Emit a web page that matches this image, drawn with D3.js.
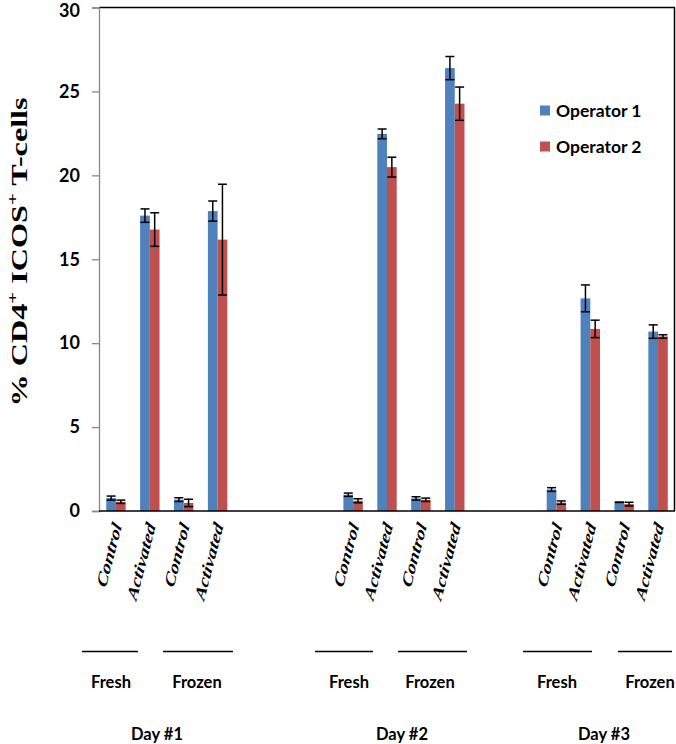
<!DOCTYPE html>
<html>
<head>
<meta charset="utf-8">
<script src="https://cdn.jsdelivr.net/npm/d3@7"></script>
<style>
  html, body { margin: 0; padding: 0; background: #fff; }
  svg { display: block; }
</style>
</head>
<body>
<svg id="chart" width="676" height="744"></svg>
<script>
// ---- data ----
const slotLabels = ["Control","Activated","Control","Activated","","","","Control","Activated","Control","Activated","","","Control","Activated","Control","Activated"];
const seriesNames = ["Operator 1","Operator 2"];
const operator1 = [0.77,17.6,0.68,17.87,null,null,null,0.97,22.47,0.75,26.39,null,null,1.28,12.67,0.52,10.69];
const operator1Err = [0.12,0.4,0.11,0.6,null,null,null,0.1,0.29,0.1,0.69,null,null,0.11,0.8,0.01,0.4];
const operator2 = [0.55,16.77,0.48,16.17,null,null,null,0.61,20.49,0.67,24.27,null,null,0.5,10.85,0.41,10.4];
const operator2Err = [0.1,1.0,0.22,3.3,null,null,null,0.12,0.59,0.1,0.99,null,null,0.1,0.52,0.11,0.1];
const yTicks = [0,5,10,15,20,25,30];
const conditionLabels = ["Fresh","Frozen","Fresh","Frozen","Fresh","Frozen"];
const dayLabels = ["Day #1","Day #2","Day #3"];
const colors = ["#4F81BD","#C0504D"];

(function () {
// ---- layout ----
const svg = d3.select("#chart");
const pLeft = 99, pRight = 675, pTop = 7.5, pBottom = 511;
const stretch = 1.4; // the original figure is stretched vertically

// hand-placed annotation geometry (pixels)
const condLines = [[82,138],[163,233],[315,373],[398,467],[523,592],[618,672]];
const condTextX = [111,197,349,430,557,650];
const dayTextX = [157,402,604];

const x = d3.scaleBand()
  .domain(d3.range(slotLabels.length))
  .range([pLeft, pRight])
  .paddingInner(0.427)
  .paddingOuter(0.2135);
const xs = d3.scaleBand().domain([0,1]).range([0, x.bandwidth()]);
const y = d3.scaleLinear().domain([0,30]).range([pBottom, pTop]);

const values = [operator1, operator2];
const errs = [operator1Err, operator2Err];

// bars
values.forEach((vals, s) => {
  const data = vals.map((v,i) => ({i, v, e: errs[s][i]})).filter(d => d.v != null);
  svg.append("g").selectAll("rect").data(data).enter().append("rect")
    .attr("x", d => x(d.i) + xs(s))
    .attr("y", d => y(d.v))
    .attr("width", xs.bandwidth())
    .attr("height", d => y(0) - y(d.v))
    .attr("fill", colors[s]);
  const eg = svg.append("g").attr("stroke", "#000").attr("stroke-width", 1.5);
  data.forEach(d => {
    const cx = x(d.i) + xs(s) + xs.bandwidth()/2;
    const hw = 4.5;
    eg.append("line").attr("x1", cx).attr("x2", cx).attr("y1", y(d.v + d.e)).attr("y2", y(d.v - d.e));
    eg.append("line").attr("x1", cx-hw).attr("x2", cx+hw).attr("y1", y(d.v + d.e)).attr("y2", y(d.v + d.e));
    eg.append("line").attr("x1", cx-hw).attr("x2", cx+hw).attr("y1", y(d.v - d.e)).attr("y2", y(d.v - d.e));
  });
});

// frame lines (top / right)
svg.append("line").attr("x1", pLeft).attr("x2", pRight).attr("y1", pTop).attr("y2", pTop)
  .attr("stroke", "#000").attr("stroke-width", 1.5);
svg.append("line").attr("x1", pRight-0.5).attr("x2", pRight-0.5).attr("y1", pTop).attr("y2", pBottom)
  .attr("stroke", "#000").attr("stroke-width", 1.5);

// y axis
const yAxis = svg.append("g").attr("transform", `translate(${pLeft},0)`)
  .call(d3.axisLeft(y).tickValues(yTicks).tickSize(7).tickPadding(12));
yAxis.selectAll("path, line").attr("stroke", "#888").attr("stroke-width", 1.3);
yAxis.selectAll("text").attr("font-family", "Lato, 'Open Sans', sans-serif")
  .attr("font-weight", "bold").attr("font-size", 18).attr("fill", "#000")
  .attr("dy", d => d === 30 ? "0.52em" : "0.32em");

// x axis line
svg.append("line").attr("x1", pLeft).attr("x2", pRight).attr("y1", pBottom).attr("y2", pBottom)
  .attr("stroke", "#000").attr("stroke-width", 1.5);

// category labels
svg.append("g").selectAll("text")
  .data(slotLabels.map((l,i) => ({l,i})).filter(d => d.l))
  .enter().append("text")
  .attr("transform", d => `translate(${x(d.i) + x.bandwidth()/2 + 6},${pBottom + 15}) scale(1,${stretch}) rotate(-70)`)
  .attr("text-anchor", "end")
  .attr("font-family", "'Liberation Serif', 'Times New Roman', serif")
  .attr("font-weight", "bold").attr("font-style", "italic").attr("font-size", 15)
  .text(d => d.l);

// condition lines + labels
const lineY = 651.5;
condLines.forEach((ln, k) => {
  svg.append("line").attr("x1", ln[0]).attr("x2", ln[1]).attr("y1", lineY).attr("y2", lineY)
    .attr("stroke", "#000").attr("stroke-width", 1.4);
  svg.append("text").attr("x", condTextX[k]).attr("y", 688)
    .attr("text-anchor", "middle")
    .attr("font-family", "Lato, 'Open Sans', sans-serif").attr("font-weight", "bold").attr("font-size", 16.5)
    .text(conditionLabels[k]);
});
dayLabels.forEach((lab, k) => {
  svg.append("text").attr("x", dayTextX[k]).attr("y", 740)
    .attr("text-anchor", "middle")
    .attr("font-family", "Lato, 'Open Sans', sans-serif").attr("font-weight", "bold").attr("font-size", 16.5)
    .text(lab);
});

// y title
const yt = svg.append("text")
  .attr("transform", `translate(27,252) scale(1,${stretch}) rotate(-90)`)
  .attr("text-anchor", "middle")
  .attr("font-family", "'Liberation Serif', 'Times New Roman', serif")
  .attr("font-weight", "bold").attr("font-size", 23);
yt.append("tspan").text("% CD4");
yt.append("tspan").attr("font-size", 15).attr("dy", -10).text("+");
yt.append("tspan").attr("dy", 10).text(" ICOS");
yt.append("tspan").attr("font-size", 15).attr("dy", -10).text("+");
yt.append("tspan").attr("dy", 10).text(" T-cells");

// legend
seriesNames.forEach((n, s) => {
  const ly = 110.5 + s*36;
  svg.append("rect").attr("x", 540).attr("y", ly - 5).attr("width", 10).attr("height", 10).attr("fill", colors[s]);
  svg.append("text").attr("x", 556).attr("y", ly + 6.5)
    .attr("font-family", "Lato, 'Open Sans', sans-serif").attr("font-weight", "bold").attr("font-size", 17.5)
    .text(n);
});
})();
</script>
</body>
</html>
